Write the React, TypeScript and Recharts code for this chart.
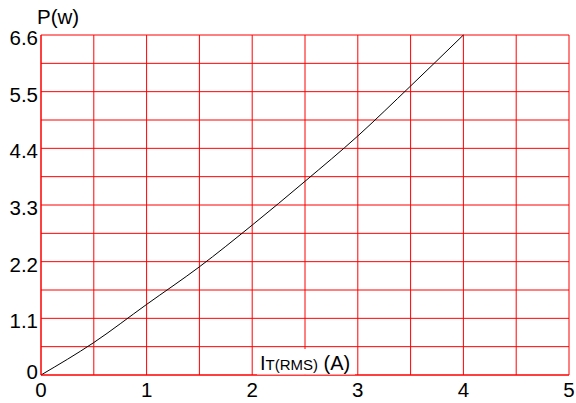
import React from 'react';
import { LineChart, Line, XAxis, YAxis, CartesianGrid } from 'recharts';

// on-state current I_T(RMS) in A, and dissipated power P in W
const current = [0, 0.5, 1, 1.5, 2, 2.5, 3, 3.5, 4];
const power = [0, 0.63, 1.37, 2.1, 2.91, 3.76, 4.64, 5.61, 6.6];

const xTicks = [0, 0.5, 1, 1.5, 2, 2.5, 3, 3.5, 4, 4.5, 5];
const yTicks = [0, 0.55, 1.1, 1.65, 2.2, 2.75, 3.3, 3.85, 4.4, 4.95, 5.5, 6.05, 6.6];

const FONT = '"Liberation Sans", Arial, sans-serif';
const GRID_RED = '#ff0000';
const W = 576;
const H = 403;

const data = current.map((x, i) => ({ x, p: power[i] }));

const XTick = ({ x, y, payload }: any) => {
  const v = payload.value;
  if (!Number.isInteger(v)) return null;
  return (
    <text x={x} y={y + 22} textAnchor="middle" fontSize={20.5} fontFamily={FONT} fill="#000">
      {v}
    </text>
  );
};

const YTick = ({ x, y, payload }: any) => {
  const v = payload.value;
  if (Math.round(v * 100) % 110 !== 0) return null;
  return (
    <text x={x - 3} y={v === 0 ? y + 3.5 : y + 10} textAnchor="end" fontSize={20.5} fontFamily={FONT} fill="#000">
      {v === 0 ? '0' : v.toFixed(1)}
    </text>
  );
};

const App: React.FC = () => {
  return (
    <div style={{ position: 'relative', width: W, height: H }}>
      {/* drop the default body margin so the chart fills the window */}
      <style>{'body{margin:0}'}</style>
      <LineChart width={W} height={H} data={data} margin={{ top: 35, right: 7, left: 0, bottom: 0 }}>
        <CartesianGrid stroke={GRID_RED} strokeWidth={1} />
        <XAxis
          dataKey="x"
          type="number"
          domain={[0, 5]}
          ticks={xTicks}
          interval={0}
          height={28}
          tickLine={false}
          tickSize={0}
          tickMargin={0}
          axisLine={{ stroke: GRID_RED }}
          tick={<XTick />}
        />
        <YAxis
          type="number"
          domain={[0, 6.6]}
          ticks={yTicks}
          interval={0}
          width={41}
          tickLine={false}
          tickSize={0}
          tickMargin={0}
          axisLine={{ stroke: GRID_RED }}
          tick={<YTick />}
        />
        <Line
          dataKey="p"
          type="monotone"
          stroke="#000"
          strokeWidth={1}
          dot={false}
          isAnimationActive={false}
        />
      </LineChart>
      <svg
        width={W}
        height={H}
        style={{ position: 'absolute', left: 0, top: 0, pointerEvents: 'none' }}
        fontFamily={FONT}
      >
        <text x={37} y={23.5} fontSize={20.5} fill="#000">P(w)</text>
        <rect x={257} y={349} width={98} height={25.5} fill="#fff" />
        <text x={260} y={370} fontSize={20} fill="#000">
          I<tspan fontSize={15}>T(RMS)</tspan> (A)
        </text>
      </svg>
    </div>
  );
};

export default App;
